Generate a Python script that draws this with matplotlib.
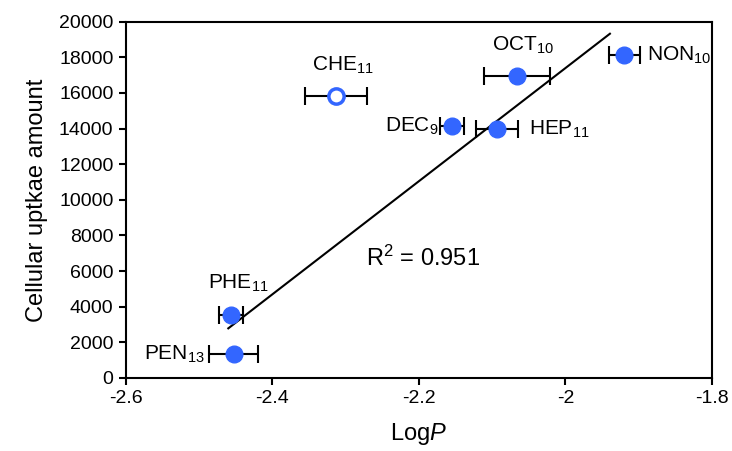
import numpy as np
import matplotlib
matplotlib.use("Agg")
import matplotlib.pyplot as plt

plt.rcParams.update({
    'font.family': 'Liberation Sans',
    'mathtext.fontset': 'custom',
    'mathtext.rm': 'Liberation Sans',
    'mathtext.it': 'Liberation Sans:italic',
    'font.size': 14,
})

# data
names = ["PEN$_{13}$", "PHE$_{11}$", "CHE$_{11}$", "DEC$_{9}$",
         "HEP$_{11}$", "OCT$_{10}$", "NON$_{10}$"]
logp = [-2.4526, -2.4567, -2.3133, -2.155, -2.0935, -2.066, -1.920]
logp_err = [0.0334, 0.0164, 0.0423, 0.0164, 0.0287, 0.045, 0.0212]
uptake = [1330, 3560, 15825, 14141, 13973, 16947, 18126]
is_open = [False, False, True, False, False, False, False]

# trend line range (x)
trend_x = [-2.4603, -1.9393]

# label placement: (x, y, ha)
label_pos = [(-2.493, 1330, "right"), (-2.446, 5331, "center"),
             (-2.304, 17565, "center"), (-2.173, 14141, "right"),
             (-2.050, 13973, "left"), (-2.058, 18687, "center"),
             (-1.889, 18126, "left")]

BLUE = "#3366FF"

fig = plt.figure(figsize=(7.32, 4.51), dpi=100)
ax = fig.add_axes([0.1721, 0.1619, 0.8005, 0.790])

x = np.array(logp)
y = np.array(uptake)
closed = ~np.array(is_open)

# regression on the filled points only
slope, icpt = np.polyfit(x[closed], y[closed], 1)
r2 = np.corrcoef(x[closed], y[closed])[0, 1] ** 2
tx = np.array(trend_x)
ax.plot(tx, slope * tx + icpt, color="black", lw=1.5, zorder=2)

ax.errorbar(x, y, xerr=logp_err, fmt="none", ecolor="black", elinewidth=1.5,
            capsize=6.5, capthick=1.5, zorder=3)
ax.plot(x[closed], y[closed], "o", ms=12, color=BLUE, mec=BLUE, zorder=4)
ax.plot(x[~closed], y[~closed], "o", ms=11, mfc="white", mec=BLUE, mew=2.5, zorder=4)

for name, (lx, ly, ha) in zip(names, label_pos):
    ax.text(lx, ly, name, ha=ha, va="center", fontsize=15)

ax.text(-2.272, 6734, f"R$^2$ = {r2:.3f}", ha="left", va="center", fontsize=17)

ax.set_xlim(-2.6, -1.8)
ax.set_ylim(0, 20000)
ax.set_xticks([-2.6, -2.4, -2.2, -2.0, -1.8])
ax.set_xticklabels(["-2.6", "-2.4", "-2.2", "-2", "-1.8"])
ax.set_yticks(np.arange(0, 20001, 2000))
ax.set_xlabel("Log$\\mathit{P}$", fontsize=17, labelpad=10)
ax.set_ylabel("Cellular uptkae amount", fontsize=17, labelpad=8)
for s in ax.spines.values():
    s.set_linewidth(1.5)
ax.tick_params(direction="out", length=5, width=1.5, labelsize=14, pad=4)

fig.savefig("out.png", dpi=100)
